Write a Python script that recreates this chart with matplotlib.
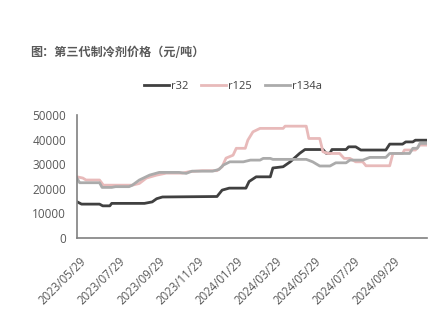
import matplotlib
matplotlib.use("Agg")
import matplotlib.pyplot as plt
import matplotlib.dates as mdates
import pandas as pd

plt.rcParams['font.family'] = ['Open Sans', 'Noto Sans CJK SC', 'DejaVu Sans']

# 数据（从图上读取的拐点）
r32_dates = ['2023-05-25', '2023-06-01', '2023-06-29', '2023-07-04', '2023-07-15', '2023-07-18',
             '2023-09-07', '2023-09-19', '2023-09-26', '2023-10-05', '2023-12-29', '2024-01-06',
             '2024-01-17', '2024-02-12', '2024-02-17', '2024-02-28', '2024-03-21', '2024-03-25',
             '2024-04-10', '2024-04-21', '2024-05-06', '2024-05-14', '2024-06-11', '2024-06-16',
             '2024-06-22', '2024-06-25', '2024-07-17', '2024-07-21', '2024-08-01', '2024-08-09',
             '2024-09-17', '2024-09-23', '2024-10-13', '2024-10-18', '2024-10-29', '2024-11-02',
             '2024-11-18']
r32_vals = [14750, 13800, 13800, 13100, 13100, 14100,
            14100, 14700, 16000, 16700, 16900, 19500,
            20300, 20300, 23000, 24900, 24900, 28500,
            29000, 31000, 34500, 36000, 36000, 34500,
            34500, 36000, 36000, 37100, 37100, 35800,
            35800, 38200, 38200, 39100, 39100, 39800,
            39800]

r125_dates = ['2023-05-25', '2023-06-03', '2023-06-08', '2023-06-29', '2023-07-05', '2023-08-19',
              '2023-08-30', '2023-09-10', '2023-09-26', '2023-10-11', '2023-11-05', '2023-11-16',
              '2023-12-06', '2023-12-29', '2024-01-06', '2024-01-12', '2024-01-23', '2024-01-28',
              '2024-02-11', '2024-02-15', '2024-02-23', '2024-03-05', '2024-04-10', '2024-04-13',
              '2024-05-16', '2024-05-20', '2024-06-06', '2024-06-11', '2024-06-19', '2024-07-07',
              '2024-07-14', '2024-07-23', '2024-08-01', '2024-08-12', '2024-08-17', '2024-09-23',
              '2024-09-28', '2024-10-13', '2024-10-16', '2024-11-02', '2024-11-09', '2024-11-18']
r125_vals = [24900, 24400, 23600, 23600, 21500, 21500,
             22200, 24400, 25600, 26400, 26400, 27000,
             27400, 27400, 29000, 32500, 33700, 36500,
             36500, 39800, 43200, 44600, 44600, 45500,
             45500, 40500, 40500, 35100, 34400, 34400,
             32400, 32400, 31000, 31000, 29400, 29400,
             34400, 34400, 35800, 35800, 37800, 37800]

r134a_dates = ['2023-05-25', '2023-05-29', '2023-06-29', '2023-07-03', '2023-07-18', '2023-07-24',
               '2023-08-14', '2023-08-19', '2023-08-30', '2023-09-15', '2023-09-30', '2023-10-31',
               '2023-11-11', '2023-11-20', '2023-12-22', '2024-01-01', '2024-01-08', '2024-01-18',
               '2024-02-08', '2024-02-19', '2024-03-05', '2024-03-10', '2024-03-21', '2024-03-25',
               '2024-05-16', '2024-05-26', '2024-06-06', '2024-06-22', '2024-07-01', '2024-07-17',
               '2024-07-23', '2024-08-12', '2024-08-23', '2024-09-17', '2024-09-23', '2024-10-24',
               '2024-10-29', '2024-11-05', '2024-11-09', '2024-11-18']
r134a_vals = [24300, 22500, 22500, 20600, 20600, 20900,
              20900, 21500, 23600, 25600, 26700, 26700,
              26300, 27200, 27200, 27900, 29700, 31000,
              31000, 31700, 31700, 32400, 32400, 32000,
              32000, 31000, 29300, 29300, 30600, 30600,
              31700, 31700, 32800, 32800, 34400, 34400,
              36500, 36500, 38500, 38500]

tick_dates = ['2023-05-29', '2023-07-29', '2023-09-29', '2023-11-29', '2024-01-29',
              '2024-03-29', '2024-05-29', '2024-07-29', '2024-09-29']

fig = plt.figure(figsize=(4.48, 3.27), dpi=100)
ax = fig.add_axes([0.172, 0.272, 0.781, 0.376])

ax.plot(pd.to_datetime(r32_dates), r32_vals, color='#404040', lw=2.0, label='r32')
ax.plot(pd.to_datetime(r125_dates), r125_vals, color='#E8BABA', lw=2.0, label='r125')
ax.plot(pd.to_datetime(r134a_dates), r134a_vals, color='#ABABAB', lw=2.0, label='r134a')

ax.set_ylim(0, 50000)
ax.set_yticks([0, 10000, 20000, 30000, 40000, 50000])
ax.set_xlim(pd.Timestamp('2023-05-25'), pd.Timestamp('2024-11-20'))
ax.set_xticks(pd.to_datetime(tick_dates))
ax.xaxis.set_major_formatter(mdates.DateFormatter('%Y/%m/%d'))
plt.setp(ax.get_xticklabels(), rotation=45, ha='right', rotation_mode='anchor')

ax.tick_params(length=0, colors='#595959')
ax.tick_params(axis='x', labelsize=8.3, pad=12)
ax.tick_params(axis='y', labelsize=8.5, pad=8)
for s in ['top', 'right']:
    ax.spines[s].set_visible(False)
for s in ['left', 'bottom']:
    ax.spines[s].set_color('#808080')
    ax.spines[s].set_linewidth(1.2)

fig.text(0.067, 0.84, '图：第三代制冷剂价格（元/吨）', fontsize=8.7, fontweight='bold',
         color='#595959', family=['Noto Sans CJK SC', 'DejaVu Sans'], va='center')

fig.legend(loc='center', bbox_to_anchor=(0.52, 0.735), ncol=3, frameon=False,
           fontsize=8, handlelength=2.2, handletextpad=0.2, columnspacing=1.2,
           labelcolor='#404040')

fig.savefig('out.png', dpi=100)
